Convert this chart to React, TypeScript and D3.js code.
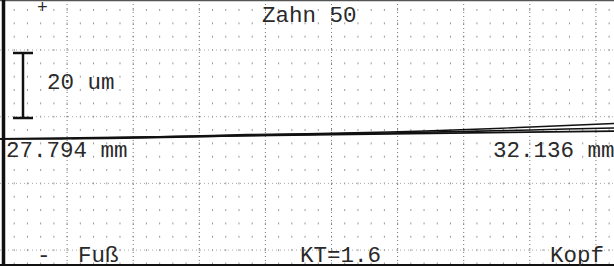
import * as d3 from "d3";

// profile positions (mm) and deviations (um)
const positions = [27.794, 28.05, 28.3, 28.55, 28.8, 29.05, 29.3, 29.55, 29.8, 30.05, 30.3, 30.55, 30.8, 31.05, 31.3, 31.55, 31.8, 32.136];
const traceA = [-1.85, -1.85, -1.78, -1.69, -1.54, -1.29, -1.08, -0.77, -0.55, -0.37, -0.18, 0.0, 0.22, 0.46, 0.68, 0.92, 1.23, 1.54];
const traceB = [null, null, -1.69, -1.48, -1.23, -1.02, -0.77, -0.46, -0.31, -0.15, 0.06, 0.31, 0.62, 0.98, 1.38, 1.85, 2.31, 2.92];
const refStart = -1.8;
const refEnd = 0.6;

const title = "Zahn 50";
const startLabel = "27.794 mm";
const endLabel = "32.136 mm";
const scaleLabel = "20 um";
const scaleUm = 20;
const bottomLabels = ["-", "Fuß", "KT=1.6", "Kopf"];

const W = 614;
const H = 266;

const App = () => {
  const x = d3.scaleLinear().domain([positions[0], positions[positions.length - 1]]).range([0, W]);
  const y = d3.scaleLinear().domain([0, scaleUm]).range([133, 68]);

  // grid divisions (fixed chart paper)
  const gx = d3.scaleLinear().domain([0, 1]).range([1, 67.1]);
  const gy = d3.scaleLinear().domain([0, 1]).range([50, 116.7]);
  const majorX = d3.range(1, 10);
  const majorY = d3.range(0, 4);
  const minorX = d3.range(1, 47).map((i) => i / 5);
  const minorY = d3.range(-3, 17).map((i) => i / 5);

  const line = d3
    .line<[number, number | null]>()
    .defined((d) => d[1] !== null)
    .x((d) => x(d[0]))
    .y((d) => y(d[1] as number))
    .curve(d3.curveMonotoneX);

  const font = "'Liberation Mono', 'DejaVu Sans Mono', monospace";
  const txt = { fontFamily: font, fontSize: 22.5, fill: "#2a2a2a" };

  return (
    <svg width={W} height={H} style={{ position: "fixed", left: 0, top: 0, background: "#fff" }}>
      <rect x={0} y={0} width={W} height={H} fill="#fff" />
      {/* minor dots */}
      <g fill="#9a9a9a">
        {minorX.map((mx) =>
          minorY.map((my) => (
            <rect key={`${mx}-${my}`} x={gx(mx) - 0.5} y={gy(my) - 1} width={1} height={2} />
          ))
        )}
      </g>
      {/* major grid */}
      <g stroke="#777" strokeWidth={1}>
        {majorX.map((m) => (
          <line key={`vx${m}`} x1={gx(m)} x2={gx(m)} y1={0} y2={H} strokeDasharray="1,3" />
        ))}
        {majorY.map((m) => (
          <line key={`hy${m}`} x1={0} x2={W} y1={gy(m)} y2={gy(m)} strokeDasharray="1,3" stroke="#aaa" />
        ))}
      </g>
      {/* frame */}
      <line x1={0} x2={W} y1={0.5} y2={0.5} stroke="#555" strokeWidth={1.5} />
      <line x1={0} x2={W} y1={265} y2={265} stroke="#111" strokeWidth={2} />
      <line x1={3.5} x2={3.5} y1={0} y2={H} stroke="#111" strokeWidth={3.5} />

      {/* reference line and traces */}
      <line x1={x(positions[0])} x2={x(positions[positions.length - 1])} y1={y(refStart)} y2={y(refEnd)} stroke="#111" strokeWidth={1.8} />
      <path d={line(positions.map((p, i) => [p, traceA[i]])) || ""} fill="none" stroke="#111" strokeWidth={1.6} />
      <path d={line(positions.map((p, i) => [p, traceB[i]])) || ""} fill="none" stroke="#111" strokeWidth={1.4} />

      {/* scale bar */}
      <g stroke="#111" strokeWidth={2.5}>
        <line x1={23} x2={23} y1={y(0) - 15} y2={y(scaleUm) - 15} />
        <line x1={13} x2={33} y1={y(0) - 15} y2={y(0) - 15} />
        <line x1={13} x2={33} y1={y(scaleUm) - 15} y2={y(scaleUm) - 15} />
      </g>
      <text x={47} y={89} {...txt}>{scaleLabel}</text>
      <text x={262} y={22} {...txt}>{title}</text>
      <text x={37} y={13} {...txt} fontSize={18}>+</text>
      <text x={6} y={157} {...txt}>{startLabel}</text>
      <text x={493} y={157} {...txt}>{endLabel}</text>
      <text x={37} y={262} {...txt}>{bottomLabels[0]}</text>
      <text x={78} y={262} {...txt}>{bottomLabels[1]}</text>
      <text x={300} y={262} {...txt}>{bottomLabels[2]}</text>
      <text x={550} y={262} {...txt}>{bottomLabels[3]}</text>
    </svg>
  );
};

export default App;
